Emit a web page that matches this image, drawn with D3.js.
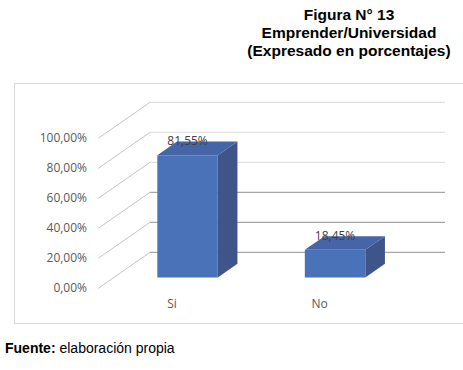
<!DOCTYPE html>
<html lang="es">
  <head>
    <meta charset="utf-8" />
    <title>Figura 13</title>
    <script type="text/javascript" src="https://d3js.org/d3.v7.min.js"></script>
    <style>
      body { margin: 0; background: #fff; }
    </style>
  </head>
  <body>
    <div id="graph"></div>

    <script type="text/javascript">
      /***************
       * data
       ***************/

      const categories = ["Si", "No"];
      const values = [81.55, 18.45];
      const ticks = [0, 20, 40, 60, 80, 100];
      const titleLines = ["Figura N° 13", "Emprender/Universidad", "(Expresado en porcentajes)"];

      /***************
       * svg
       ***************/

      const width = 463;
      const height = 370;

      const svg = d3
        .select("div#graph")
        .append("svg")
        .attr("width", width)
        .attr("height", height);

      // title
      svg
        .selectAll("text.title")
        .data(titleLines)
        .enter()
        .append("text")
        .attr("class", "title")
        .attr("x", 349)
        .attr("y", (d, i) => 19.5 + i * 18)
        .attr("text-anchor", "middle")
        .attr("font-family", "Liberation Sans, Arial, sans-serif")
        .attr("font-weight", "bold")
        .attr("font-size", 15.5)
        .attr("fill", "#000")
        .text((d) => d);

      // chart frame
      svg
        .append("rect")
        .attr("x", 14.5)
        .attr("y", 83.5)
        .attr("width", 460)
        .attr("height", 240)
        .attr("fill", "none")
        .attr("stroke", "#d9d9d9");

      /***************
       * scales (front plane) + depth
       ***************/

      const x0 = 98.3; // front left of plot
      const plotW = 295;
      const depth = { dx: 51.7, dy: -36 };

      const y = d3.scaleLinear().domain([0, 100]).range([288.3, 138.3]);
      const x = d3.scalePoint().domain(categories).range([0, plotW]).padding(0.5);
      const barW = x.step() * 0.41;
      const z0 = 0.3, z1 = 0.68; // bar depth

      // project a point (px along plot, value, depth fraction)
      function proj(px, v, z) {
        return [x0 + px + z * depth.dx, y(v) + z * depth.dy];
      }

      /***************
       * grid (side wall + back wall)
       ***************/

      const grid = svg.append("g");
      ticks.forEach((t) => {
        const a = proj(0, t, 0);
        const b = proj(0, t, 1);
        const c = proj(plotW, t, 1);
        const col = t <= 40 ? "#a6a6a6" : "#d9d9d9";
        grid
          .append("path")
          .attr("d", d3.line()([a, b]))
          .attr("stroke", "#c4c4c4")
          .attr("stroke-width", 1)
          .attr("fill", "none");
        grid
          .append("path")
          .attr("d", d3.line()([b, c]))
          .attr("stroke", col)
          .attr("stroke-width", t <= 40 ? 1.3 : 1)
          .attr("fill", "none");
      });

      // y tick labels
      svg
        .selectAll("text.tick")
        .data(ticks)
        .enter()
        .append("text")
        .attr("class", "tick")
        .attr("x", 87)
        .attr("y", (d) => y(d) + 4)
        .attr("text-anchor", "end")
        .attr("font-family", "Open Sans, sans-serif")
        .attr("font-size", 12)
        .attr("fill", "#595959")
        .text((d) => d3.format(".2f")(d).replace(".", ",") + "%");

      /***************
       * bars
       ***************/

      const bars = svg
        .selectAll("g.bar")
        .data(categories.map((c, i) => ({ cat: c, value: values[i] })))
        .enter()
        .append("g")
        .attr("class", "bar");

      bars.each(function (d) {
        const g = d3.select(this);
        const l = x(d.cat) - barW / 2;
        const r = x(d.cat) + barW / 2;
        const ftl = proj(l, d.value, z0), ftr = proj(r, d.value, z0);
        const fbl = proj(l, 0, z0), fbr = proj(r, 0, z0);
        const btl = proj(l, d.value, z1), btr = proj(r, d.value, z1);
        const bbr = proj(r, 0, z1);

        g.append("path")
          .attr("d", d3.line()([ftr, btr, bbr, fbr]) + "Z")
          .attr("fill", "#3f5488");
        g.append("path")
          .attr("d", d3.line()([ftl, ftr, btr, btl]) + "Z")
          .attr("fill", "#4565a6");
        g.append("path")
          .attr("d", d3.line()([ftl, ftr, fbr, fbl]) + "Z")
          .attr("fill", "#4a72b8");

        // data label
        const lab = proj(x(d.cat), d.value, z1);
        g.append("text")
          .attr("x", proj(x(d.cat), d.value, z0)[0])
          .attr("y", lab[1] + 4)
          .attr("text-anchor", "middle")
          .attr("font-family", "Open Sans, sans-serif")
          .attr("font-size", 12)
          .attr("fill", "#404040")
          .text(d3.format(".2f")(d.value).replace(".", ",") + "%");
      });

      // category labels (front plane)
      svg
        .selectAll("text.cat")
        .data(categories)
        .enter()
        .append("text")
        .attr("class", "cat")
        .attr("x", (d) => proj(x(d), 0, 0)[0])
        .attr("y", 308)
        .attr("text-anchor", "middle")
        .attr("font-family", "Open Sans, sans-serif")
        .attr("font-size", 12)
        .attr("fill", "#595959")
        .text((d) => d);

      /***************
       * source
       ***************/

      const src = svg
        .append("text")
        .attr("x", 5)
        .attr("y", 352.5)
        .attr("font-family", "Liberation Sans, Arial, sans-serif")
        .attr("font-size", 14)
        .attr("fill", "#000");
      src.append("tspan").attr("font-weight", "bold").text("Fuente:");
      src.append("tspan").text(" elaboración propia");
    </script>
  </body>
</html>
